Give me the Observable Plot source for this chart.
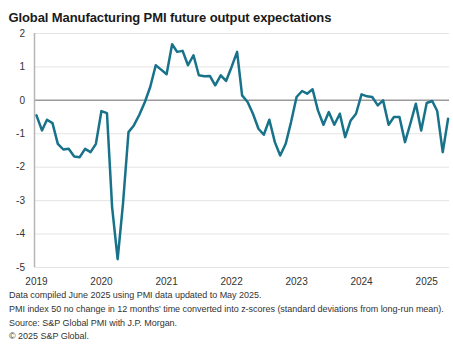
<!DOCTYPE html>
<html><head><meta charset="utf-8">
<script src="https://cdn.jsdelivr.net/npm/d3@7"></script>
<script src="https://cdn.jsdelivr.net/npm/@observablehq/plot@0.6"></script>
<style>
body{margin:0;background:#fff;font-family:"Liberation Sans",Arial,sans-serif;}
#title{font-weight:bold;font-size:13px;line-height:16px;padding:10px 0 0 8.5px;height:16px;color:#1a1a1a;white-space:nowrap;letter-spacing:-0.1px}
#foot{font-size:9px;line-height:13.8px;padding:1px 0 0 9px;color:#333;white-space:nowrap;letter-spacing:-0.03px}
svg{display:block}
</style></head><body>
<div id="title">Global Manufacturing PMI future output expectations</div>
<div id="chart"></div>
<div id="foot">
<div>Data compiled June 2025 using PMI data updated to May 2025.</div>
<div>PMI index 50 no change in 12 months' time converted into z-scores (standard deviations from long-run mean).</div>
<div>Source: S&amp;P Global PMI with J.P. Morgan.</div>
<div>© 2025 S&amp;P Global.</div>
</div>
<script>
const years = [2019, 2020, 2021, 2022, 2023, 2024, 2025];
const yTicks = [-5, -4, -3, -2, -1, 0, 1, 2];
// Monthly z-scores, Jan 2019 – May 2025
const z2019 = [-0.45, -0.9, -0.58, -0.68, -1.3, -1.47, -1.45, -1.68, -1.7, -1.45, -1.55, -1.3];
const z2020 = [-0.32, -0.38, -3.2, -4.75, -3.1, -0.95, -0.75, -0.43, -0.05, 0.4, 1.05, 0.92];
const z2021 = [0.78, 1.68, 1.45, 1.48, 1.05, 1.35, 0.75, 0.72, 0.73, 0.45, 0.75, 0.58];
const z2022 = [1.0, 1.45, 0.15, -0.05, -0.4, -0.85, -1.03, -0.58, -1.25, -1.65, -1.3, -0.65];
const z2023 = [0.1, 0.28, 0.2, 0.33, -0.3, -0.73, -0.35, -0.73, -0.4, -1.1, -0.6, -0.4];
const z2024 = [0.18, 0.12, 0.1, -0.15, 0.0, -0.73, -0.5, -0.5, -1.25, -0.7, -0.1, -0.9];
const z2025 = [-0.08, -0.02, -0.32, -1.55, -0.55];

const values = [...z2019, ...z2020, ...z2021, ...z2022, ...z2023, ...z2024, ...z2025];
const data = values.map((v, i) => ({date: new Date(Date.UTC(2019, i, 1)), value: v}));
const xStart = new Date(Date.UTC(2018, 11, 21));
const xEnd = new Date(Date.UTC(2025, 4, 9));

const chart = Plot.plot({
  width: 453, height: 262,
  marginTop: 7, marginBottom: 21, marginLeft: 34, marginRight: 4,
  style: {fontFamily: "Liberation Sans, Arial, sans-serif", fontSize: "10px", color: "#333", background: "#fff", overflow: "visible"},
  x: {type: "utc", domain: [xStart, xEnd], label: null},
  y: {domain: [-5, 2], label: null},
  marks: [
    Plot.ruleY(yTicks.filter(d => d !== 0), {stroke: "#e4e4e4", strokeWidth: 1}),
    Plot.ruleY([0], {stroke: "#9a9a9a", strokeWidth: 1.5}),
    Plot.ruleX([xStart], {stroke: "#b5b5b5", strokeWidth: 1.5}),
    Plot.axisY({ticks: yTicks, tickSize: 0, tickPadding: 9.5, tickFormat: d => String(d), label: null}),
    Plot.axisX({ticks: years.map(y => new Date(Date.UTC(y, 0, 1))), tickSize: 0, tickPadding: 10, tickFormat: d => String(d.getUTCFullYear()), label: null}),
    Plot.line(data, {x: "date", y: "value", stroke: "#17728a", strokeWidth: 2.5, strokeLinejoin: "round"})
  ]
});
document.getElementById("chart").appendChild(chart);
</script>
</body></html>
